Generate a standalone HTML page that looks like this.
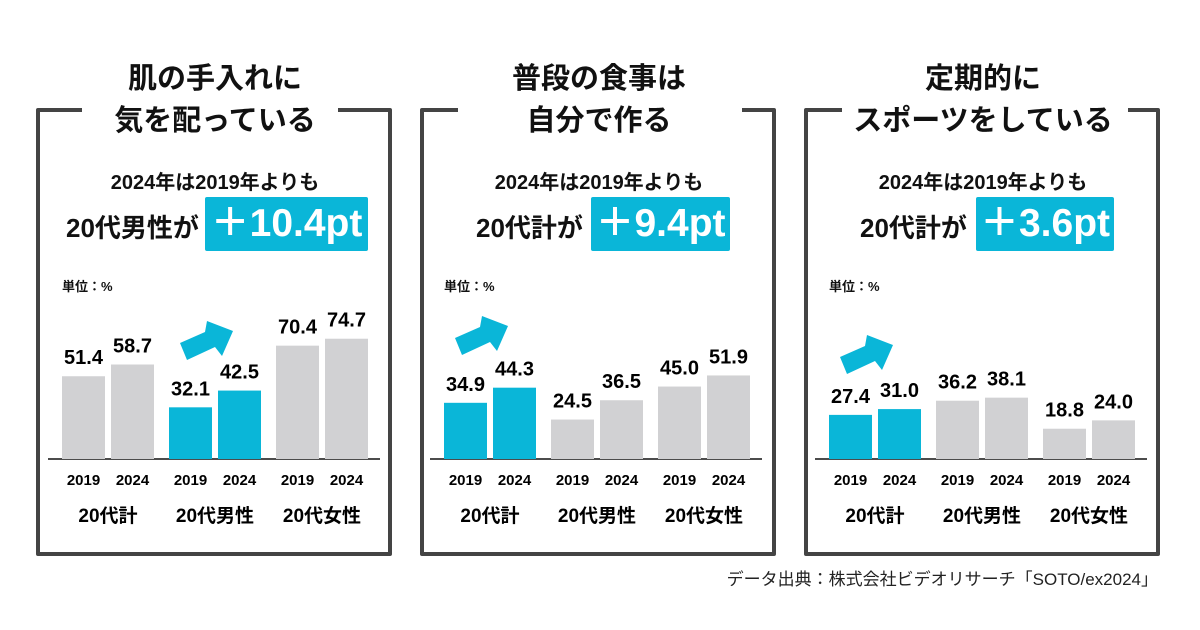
<!DOCTYPE html>
<html><head><meta charset="utf-8">
<style>
body{margin:0;width:1200px;height:630px;background:#fff;overflow:hidden;position:relative;font-family:"Liberation Sans","Noto Sans CJK JP",sans-serif;color:#111}
.abs{position:absolute}
.box{position:absolute;top:108px;width:348px;height:440px;border:4px solid #444;border-radius:2px}
.gap{position:absolute;top:100px;height:20px;background:#fff}
.title{position:absolute;width:360px;text-align:center;font-weight:bold;font-size:29px;line-height:42px;top:58px}
.sub{position:absolute;width:360px;text-align:center;font-weight:bold;font-size:20px;top:166px}
.lead{position:absolute;font-weight:bold;font-size:26px;top:208px}
.hl{position:absolute;top:197px;height:54px;background:#0ab6d8;color:#fff;font-weight:bold;font-size:39px;line-height:54px;text-align:center;border-radius:2px}
.unit{position:absolute;top:276px;font-size:13px;font-weight:bold}
svg text{font-family:"Liberation Sans","Noto Sans CJK JP",sans-serif;font-weight:bold}
</style></head><body>
<div id="panels"></div>
<svg id="chart" class="abs" style="left:0;top:0" width="1200" height="630"></svg>
<div class="abs" style="right:42px;top:565px;font-size:17px;color:#222">データ出典：株式会社ビデオリサーチ「SOTO/ex2024」</div>
<script>
const groups=["20代計","20代男性","20代女性"];
const years=["2019","2024"];
const values1=[[51.4,58.7],[32.1,42.5],[70.4,74.7]];
const values2=[[34.9,44.3],[24.5,36.5],[45.0,51.9]];
const values3=[[27.4,31.0],[36.2,38.1],[18.8,24.0]];
const highlight=[1,0,0];
const titles=[["肌の手入れに","気を配っている"],["普段の食事は","自分で作る"],["定期的に","スポーツをしている"]];
const leads=["20代男性が","20代計が","20代計が"];
const deltas=["＋10.4pt","＋9.4pt","＋3.6pt"];
const allValues=[values1,values2,values3];
const ox=[0,382,767];
const boxX=[36,420,804];
const hlX=[[205,163],[591,139],[976,138]];
const leadX=[66,476,860];
const gapX=[[82,256],[458,284],[842,286]];
const arrowOff=[[0,0],[275,-5],[660,14]];
const P=document.getElementById('panels');
const S=document.getElementById('chart');
const NS="http://www.w3.org/2000/svg";
function y(v){return 459-v*1.61;}
for(let p=0;p<3;p++){
  const o=ox[p];
  let d=document.createElement('div');d.className='box';d.style.left=boxX[p]+'px';
  
  P.appendChild(d);
  d=document.createElement('div');d.className='gap';d.style.left=gapX[p][0]+'px';d.style.width=gapX[p][1]+'px';
  
  P.appendChild(d);
  d=document.createElement('div');d.className='title';d.style.left=(boxX[p]-1)+'px';d.innerHTML=titles[p].join('<br>');
  
  P.appendChild(d);
  d=document.createElement('div');d.className='sub';d.style.left=(boxX[p]-1)+'px';d.textContent='2024年は2019年よりも';
  
  P.appendChild(d);
  d=document.createElement('div');d.className='lead';d.style.left=leadX[p]+'px';d.textContent=leads[p];
  
  P.appendChild(d);
  d=document.createElement('div');d.className='hl';d.style.left=hlX[p][0]+'px';d.style.width=hlX[p][1]+'px';d.textContent=deltas[p];
  
  P.appendChild(d);
  d=document.createElement('div');d.className='unit';d.style.left=(62+o)+'px';d.textContent='単位：%';
  
  P.appendChild(d);
  let ax=document.createElementNS(NS,'line');
  ax.setAttribute('x1',48+o);ax.setAttribute('x2',380+o);ax.setAttribute('y1',459);ax.setAttribute('y2',459);
  ax.setAttribute('stroke','#111');ax.setAttribute('stroke-width','1.5');
  
  S.appendChild(ax);
  const vals=allValues[p];
  for(let g=0;g<3;g++){
    for(let k=0;k<2;k++){
      const v=vals[g][k];const bx=62+o+g*107+k*49;
      const r=document.createElementNS(NS,'rect');
      r.setAttribute('x',bx);r.setAttribute('width',43);r.setAttribute('y',y(v));r.setAttribute('height',459-y(v));
      r.setAttribute('fill',g===highlight[p]?'#0ab6d8':'#d1d1d3');
      
      S.appendChild(r);
      let t=document.createElementNS(NS,'text');
      t.setAttribute('x',bx+21.5);t.setAttribute('y',y(v)-12);t.setAttribute('text-anchor','middle');t.setAttribute('font-size','20');
      t.textContent=v.toFixed(1);
      
      S.appendChild(t);
      t=document.createElementNS(NS,'text');
      t.setAttribute('x',bx+21.5);t.setAttribute('y',485);t.setAttribute('text-anchor','middle');t.setAttribute('font-size','15');
      t.textContent=years[k];
      
      S.appendChild(t);
    }
    const t=document.createElementNS(NS,'text');
    t.setAttribute('x',62+o+g*107+46);t.setAttribute('y',522);t.setAttribute('text-anchor','middle');t.setAttribute('font-size','19');
    t.textContent=groups[g];
    
    S.appendChild(t);
  }
  const a=arrowOff[p];
  const pts=[[187,360],[180,343],[205,332],[207,321],[233,331],[222,356],[215,347]].map(q=>(q[0]+a[0])+','+(q[1]+a[1])).join(' ');
  const ar=document.createElementNS(NS,'polygon');
  ar.setAttribute('points',pts);ar.setAttribute('fill','#0ab6d8');
  
  S.appendChild(ar);
}
</script>
</body></html>
